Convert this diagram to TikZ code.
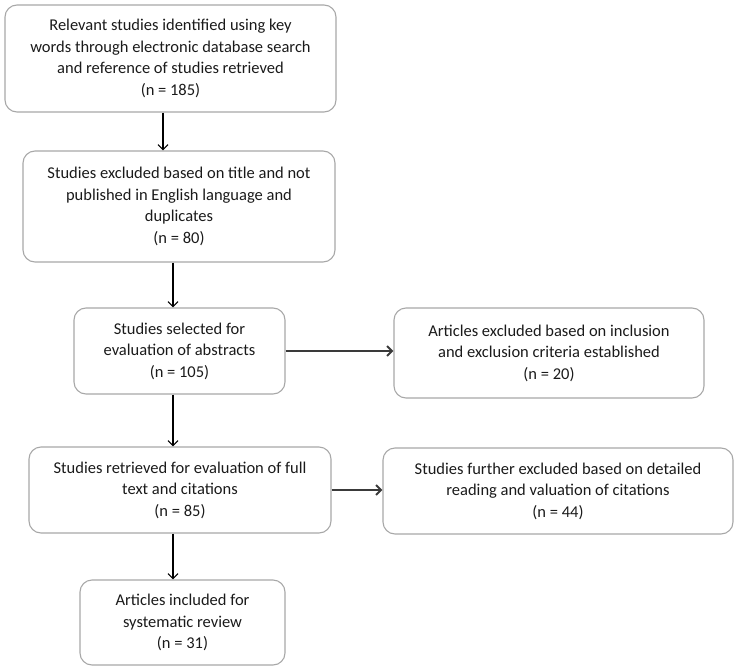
\documentclass[tikz,border=0pt]{standalone}
\usepackage{fontspec}
\setmainfont{Carlito}
\usepackage{tikz}
\usetikzlibrary{arrows.meta,positioning}
\definecolor{boxGray}{HTML}{A8A8A8}
\definecolor{txtGray}{HTML}{1A1A1A}
\definecolor{arrGray}{HTML}{3A3A3A}

\begin{document}
\begin{tikzpicture}[
    x=1pt, y=-1pt,
    font=\fontsize{16.5}{21.5}\selectfont,
    box/.style={draw=boxGray, line width=1.1pt, rounded corners=12pt, align=center, text=txtGray, inner sep=0pt},
    arr/.style={-{Straight Barb[length=5pt,width=10pt]}, line width=1.2pt, black},
    harr/.style={arr, line width=2pt, arrGray}
]
\useasboundingbox (0,0) rectangle (736,669);

% Main column.
\node[box, minimum width=331pt, minimum height=107pt] (b1) at (170.5,58.5) {Relevant studies identified using key\\words through electronic database search\\and reference of studies retrieved\\(n = 185)};
\node[box, minimum width=312pt, minimum height=111pt] (b2) at (179,206.5) {Studies excluded based on title and not\\published in English language and\\duplicates\\(n = 80)};
\node[box, minimum width=211pt, minimum height=86pt] (b3) at (179.5,351) {Studies selected for\\evaluation of abstracts\\(n = 105)};
\node[box, minimum width=302pt, minimum height=86pt] (b5) at (180,490) {Studies retrieved for evaluation of full\\text and citations\\(n = 85)};
\node[box, minimum width=205pt, minimum height=85pt] (b7) at (182.5,622.5) {Articles included for\\systematic review\\(n = 31)};

% Exclusions on the right.
\node[box, minimum width=310pt, minimum height=90pt] (b4) at (549,353) {Articles excluded based on inclusion\\and exclusion criteria established\\(n = 20)};
\node[box, minimum width=350pt, minimum height=86pt] (b6) at (558,491) {Studies further excluded based on detailed\\reading and valuation of citations\\(n = 44)};

% Connectors.
\draw[arr] ([xshift=-7.5pt]b1.south) -- ([xshift=-7.5pt]b1.south |- b2.north);
\draw[arr] ([xshift=-6pt]b2.south) -- ([xshift=-6pt]b2.south |- b3.north);
\draw[arr] ([xshift=-6.5pt]b3.south) -- ([xshift=-6.5pt]b3.south |- b5.north);
\draw[arr] ([xshift=-7pt]b5.south) -- ([xshift=-7pt]b5.south |- b7.north);
\draw[harr] (b3.east) -- (b3.east -| b4.west);
\draw[harr] (b5.east) -- (b5.east -| b6.west);
\end{tikzpicture}
\end{document}
